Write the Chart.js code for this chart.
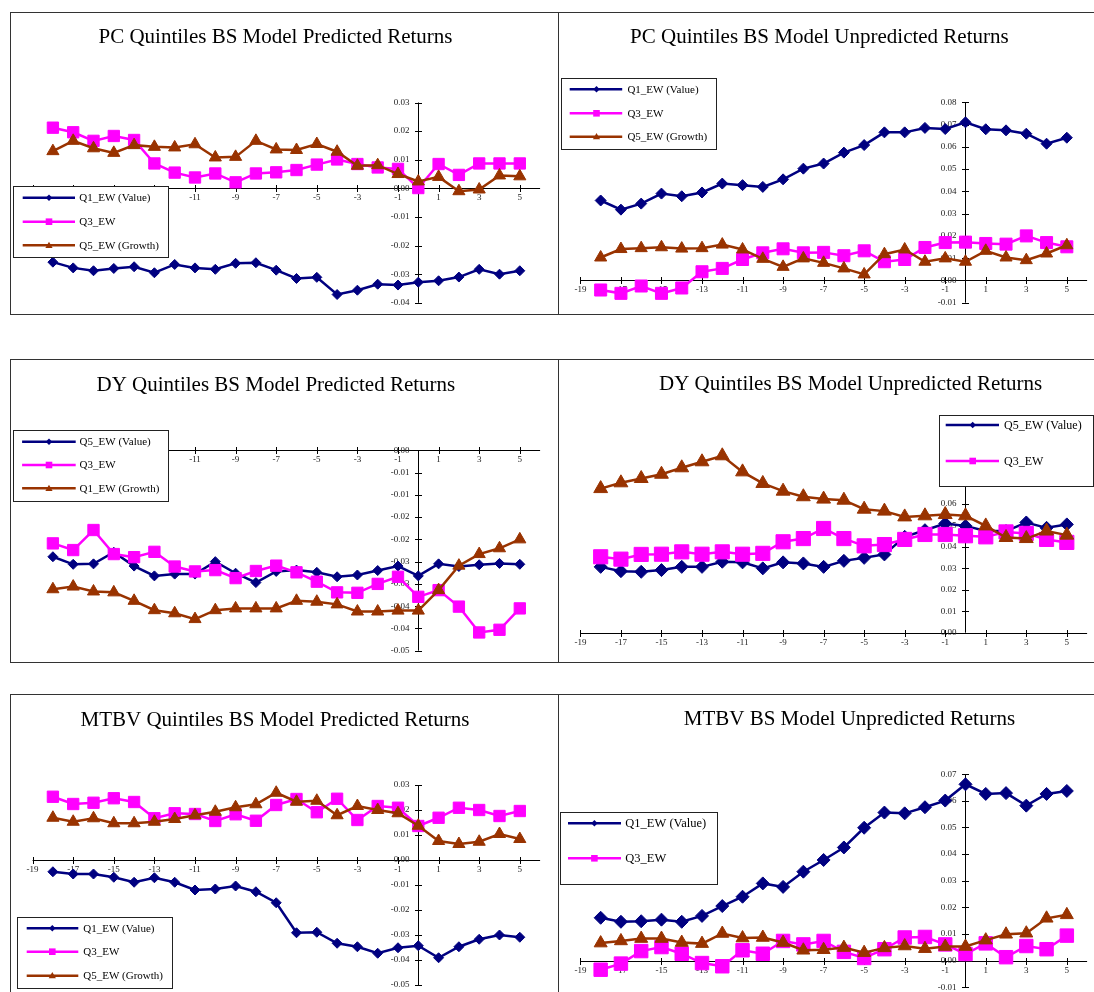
<!DOCTYPE html>
<html>
<head>
<meta charset="utf-8">
<title>BS Model Predicted and Unpredicted Returns by Quintile</title>
<script src="https://cdn.jsdelivr.net/npm/chart.js@4.4.1/dist/chart.umd.min.js"></script>
<style>
  html, body { margin: 0; padding: 0; background: #fff; width: 1094px; height: 992px; overflow: hidden; }
  .panel { position: absolute; }
  .panel canvas { display: block; }
</style>
</head>
<body>
<script>
// Event months around the event date
const periods = [-18, -17, -16, -15, -14, -13, -12, -11, -10, -9, -8, -7, -6, -5, -4, -3, -2, -1, 0, 1, 2, 3, 4, 5];
const xTickValues = [-19, -17, -15, -13, -11, -9, -7, -5, -3, -1, 1, 3, 5];

// PC quintiles, predicted returns
const pcPredValue  = [-0.0258, -0.0278, -0.0288, -0.0280, -0.0274, -0.0295, -0.0266, -0.0278, -0.0283, -0.0262, -0.0260, -0.0286, -0.0315, -0.0311, -0.0371, -0.0356, -0.0335, -0.0338, -0.0328, -0.0323, -0.0310, -0.0283, -0.0300, -0.0288];
const pcPredMid    = [0.0212, 0.0196, 0.0166, 0.0183, 0.0169, 0.0087, 0.0055, 0.0038, 0.0052, 0.0021, 0.0052, 0.0056, 0.0064, 0.0083, 0.0101, 0.0085, 0.0073, 0.0068, 0.0001, 0.0085, 0.0047, 0.0087, 0.0087, 0.0087];
const pcPredGrowth = [0.0130, 0.0166, 0.0140, 0.0124, 0.0151, 0.0145, 0.0143, 0.0154, 0.0108, 0.0110, 0.0166, 0.0136, 0.0134, 0.0155, 0.0128, 0.0079, 0.0081, 0.0050, 0.0024, 0.0040, -0.0010, -0.0004, 0.0045, 0.0042];
const pcPredYTicks  = [-0.04, -0.03, -0.02, -0.01, 0, 0.01, 0.02, 0.03];
const pcPredYLabels = ['-0.04', '-0.03', '-0.02', '-0.01', '0.00', '0.01', '0.02', '0.03'];

// PC quintiles, unpredicted returns
const pcUnpValue  = [0.0359, 0.0318, 0.0345, 0.0390, 0.0378, 0.0395, 0.0435, 0.0428, 0.0420, 0.0454, 0.0502, 0.0525, 0.0574, 0.0608, 0.0665, 0.0665, 0.0685, 0.0680, 0.0710, 0.0679, 0.0674, 0.0659, 0.0614, 0.0641];
const pcUnpMid    = [-0.0043, -0.0058, -0.0025, -0.0058, -0.0034, 0.0039, 0.0054, 0.0094, 0.0124, 0.0142, 0.0124, 0.0126, 0.0111, 0.0133, 0.0084, 0.0094, 0.0148, 0.0170, 0.0172, 0.0166, 0.0163, 0.0200, 0.0170, 0.0151];
const pcUnpGrowth = [0.0103, 0.0141, 0.0145, 0.0149, 0.0143, 0.0145, 0.0161, 0.0139, 0.0097, 0.0061, 0.0099, 0.0079, 0.0054, 0.0027, 0.0118, 0.0139, 0.0084, 0.0099, 0.0084, 0.0133, 0.0103, 0.0091, 0.0121, 0.0158];
const pcUnpYTicks  = [-0.01, 0, 0.01, 0.02, 0.03, 0.04, 0.05, 0.06, 0.07, 0.08];
const pcUnpYLabels = ['-0.01', '0.00', '0.01', '0.02', '0.03', '0.04', '0.05', '0.06', '0.07', '0.08'];

// DY quintiles, predicted returns
const dyPredValue  = [-0.0239, -0.0256, -0.0255, -0.0229, -0.0260, -0.0282, -0.0278, -0.0278, -0.0250, -0.0276, -0.0297, -0.0272, -0.0269, -0.0274, -0.0284, -0.0280, -0.0270, -0.0260, -0.0282, -0.0255, -0.0261, -0.0257, -0.0254, -0.0256];
const dyPredMid    = [-0.0209, -0.0224, -0.0179, -0.0233, -0.0240, -0.0228, -0.0261, -0.0272, -0.0269, -0.0287, -0.0271, -0.0259, -0.0274, -0.0295, -0.0319, -0.0320, -0.0300, -0.0284, -0.0329, -0.0314, -0.0351, -0.0409, -0.0403, -0.0355];
const dyPredGrowth = [-0.0312, -0.0306, -0.0317, -0.0319, -0.0338, -0.0359, -0.0366, -0.0379, -0.0359, -0.0355, -0.0355, -0.0355, -0.0338, -0.0340, -0.0346, -0.0362, -0.0362, -0.0360, -0.0360, -0.0314, -0.0259, -0.0233, -0.0220, -0.0200];
const dyPredYTicks  = [0, -0.005, -0.01, -0.015, -0.02, -0.025, -0.03, -0.035, -0.04, -0.045];
const dyPredYLabels = ['0.00', '-0.01', '-0.01', '-0.02', '-0.02', '-0.03', '-0.03', '-0.04', '-0.04', '-0.05'];

// DY quintiles, unpredicted returns
const dyUnpValue  = [0.0307, 0.0287, 0.0284, 0.0292, 0.0307, 0.0307, 0.0331, 0.0328, 0.0300, 0.0328, 0.0323, 0.0307, 0.0335, 0.0349, 0.0365, 0.0447, 0.0478, 0.0509, 0.0498, 0.0474, 0.0474, 0.0514, 0.0489, 0.0505];
const dyUnpMid    = [0.0354, 0.0343, 0.0365, 0.0366, 0.0377, 0.0366, 0.0377, 0.0366, 0.0370, 0.0424, 0.0439, 0.0486, 0.0439, 0.0405, 0.0411, 0.0435, 0.0458, 0.0458, 0.0452, 0.0447, 0.0470, 0.0463, 0.0435, 0.0421];
const dyUnpGrowth = [0.0672, 0.0699, 0.0719, 0.0739, 0.0769, 0.0797, 0.0825, 0.0750, 0.0696, 0.0660, 0.0634, 0.0623, 0.0618, 0.0576, 0.0567, 0.0540, 0.0545, 0.0551, 0.0545, 0.0498, 0.0444, 0.0439, 0.0474, 0.0455];
const dyUnpYTicks  = [0, 0.01, 0.02, 0.03, 0.04, 0.05, 0.06, 0.07, 0.08, 0.09];
const dyUnpYLabels = ['0.00', '0.01', '0.02', '0.03', '0.04', '0.05', '0.06', '0.07', '0.08', '0.09'];

// MTBV quintiles, predicted returns
const mtbvPredValue  = [-0.0047, -0.0056, -0.0056, -0.0069, -0.0089, -0.0071, -0.0089, -0.0120, -0.0116, -0.0104, -0.0127, -0.0171, -0.0291, -0.0289, -0.0333, -0.0347, -0.0373, -0.0351, -0.0343, -0.0391, -0.0347, -0.0317, -0.0300, -0.0309];
const mtbvPredMid    = [0.0253, 0.0224, 0.0229, 0.0247, 0.0232, 0.0167, 0.0187, 0.0184, 0.0156, 0.0183, 0.0157, 0.0220, 0.0244, 0.0191, 0.0245, 0.0160, 0.0216, 0.0209, 0.0136, 0.0169, 0.0209, 0.0200, 0.0176, 0.0196];
const mtbvPredGrowth = [0.0169, 0.0153, 0.0167, 0.0147, 0.0147, 0.0153, 0.0164, 0.0179, 0.0193, 0.0211, 0.0223, 0.0269, 0.0233, 0.0237, 0.0179, 0.0216, 0.0200, 0.0187, 0.0137, 0.0076, 0.0064, 0.0073, 0.0104, 0.0084];
const mtbvPredYTicks  = [-0.05, -0.04, -0.03, -0.02, -0.01, 0, 0.01, 0.02, 0.03];
const mtbvPredYLabels = ['-0.05', '-0.04', '-0.03', '-0.02', '-0.01', '0.00', '0.01', '0.02', '0.03'];

// MTBV, unpredicted returns
const mtbvUnpValue  = [0.0161, 0.0146, 0.0148, 0.0154, 0.0146, 0.0168, 0.0205, 0.0240, 0.0290, 0.0277, 0.0334, 0.0378, 0.0425, 0.0499, 0.0556, 0.0553, 0.0576, 0.0601, 0.0662, 0.0626, 0.0629, 0.0582, 0.0626, 0.0637];
const mtbvUnpMid    = [-0.0034, -0.0011, 0.0036, 0.0051, 0.0026, -0.0009, -0.0021, 0.0039, 0.0026, 0.0074, 0.0061, 0.0074, 0.0033, 0.0010, 0.0043, 0.0087, 0.0089, 0.0061, 0.0025, 0.0065, 0.0013, 0.0055, 0.0043, 0.0094];
const mtbvUnpGrowth = [0.0066, 0.0074, 0.0083, 0.0083, 0.0068, 0.0064, 0.0102, 0.0085, 0.0087, 0.0068, 0.0039, 0.0041, 0.0049, 0.0030, 0.0048, 0.0055, 0.0045, 0.0053, 0.0053, 0.0077, 0.0099, 0.0103, 0.0159, 0.0172];
const mtbvUnpYTicks  = [-0.01, 0, 0.01, 0.02, 0.03, 0.04, 0.05, 0.06, 0.07];
const mtbvUnpYLabels = ['-0.01', '0.00', '0.01', '0.02', '0.03', '0.04', '0.05', '0.06', '0.07'];

const NAVY = '#000080', MAGENTA = '#FF00FF', BROWN = '#993300';
const SERIF = '"Liberation Serif", "Times New Roman", serif';

// Panel layout, in page pixels
const panels = [
  { box: [10, 12, 549, 303], area: [32.6, 102.5, 540.1, 302.8], yMin: -0.04, yMax: 0.03,
    title: 'PC Quintiles BS Model Predicted Returns', titleAt: [275.5, 43],
    yTicks: pcPredYTicks, yLabels: pcPredYLabels, marker: [5, 8, 7],
    series: [['Q1_EW (Value)', pcPredValue, NAVY, 'rectRot'], ['Q3_EW', pcPredMid, MAGENTA, 'rect'], ['Q5_EW (Growth)', pcPredGrowth, BROWN, 'triangle']],
    legend: { box: [12.7, 186, 155, 70.7], rows: [197.7, 221.7, 245.3], line: [22.7, 75], mark: 49, text: 79.3, size: 11, items: 3 } },
  { box: [558, 12, 548, 303], area: [580.4, 102.3, 1087.1, 302.7], yMin: -0.01, yMax: 0.08,
    title: 'PC Quintiles BS Model Unpredicted Returns', titleAt: [819.4, 43],
    yTicks: pcUnpYTicks, yLabels: pcUnpYLabels, marker: [5.5, 8.5, 7],
    series: [['Q1_EW (Value)', pcUnpValue, NAVY, 'rectRot'], ['Q3_EW', pcUnpMid, MAGENTA, 'rect'], ['Q5_EW (Growth)', pcUnpGrowth, BROWN, 'triangle']],
    legend: { box: [560.5, 77.7, 155.1, 70.6], rows: [89.3, 113.3, 136.7], line: [569.7, 622.2], mark: 596.5, text: 627.4, size: 11, items: 3 } },
  { box: [10, 359, 549, 304], area: [32.6, 450.3, 540.1, 650.7], yMin: -0.045, yMax: 0,
    title: 'DY Quintiles BS Model Predicted Returns', titleAt: [275.9, 391.3],
    yTicks: dyPredYTicks, yLabels: dyPredYLabels, marker: [5, 8, 7],
    series: [['Q5_EW (Value)', dyPredValue, NAVY, 'rectRot'], ['Q3_EW', dyPredMid, MAGENTA, 'rect'], ['Q1_EW (Growth)', dyPredGrowth, BROWN, 'triangle']],
    legend: { box: [12.5, 430, 155.4, 70.7], rows: [441.7, 465, 488.3], line: [22.1, 75.7], mark: 49, text: 79.6, size: 11, items: 3 } },
  { box: [558, 359, 548, 304], area: [580.4, 439.7, 1087.1, 632.7], yMin: 0, yMax: 0.09,
    title: 'DY Quintiles BS Model Unpredicted Returns', titleAt: [850.6, 390.3],
    yTicks: dyUnpYTicks, yLabels: dyUnpYLabels, marker: [6.5, 10, 8],
    series: [['Q5_EW (Value)', dyUnpValue, NAVY, 'rectRot'], ['Q3_EW', dyUnpMid, MAGENTA, 'rect'], ['Q1_EW (Growth)', dyUnpGrowth, BROWN, 'triangle']],
    legend: { box: [939, 415, 154, 71], rows: [425, 461], line: [945.7, 999], mark: 972.7, text: 1004, size: 12, items: 2 } },
  { box: [10, 694, 549, 304], area: [32.6, 785, 540.1, 985], yMin: -0.05, yMax: 0.03,
    title: 'MTBV Quintiles BS Model Predicted Returns', titleAt: [275, 726.3],
    yTicks: mtbvPredYTicks, yLabels: mtbvPredYLabels, marker: [5, 8, 7],
    series: [['Q1_EW (Value)', mtbvPredValue, NAVY, 'rectRot'], ['Q3_EW', mtbvPredMid, MAGENTA, 'rect'], ['Q5_EW (Growth)', mtbvPredGrowth, BROWN, 'triangle']],
    legend: { box: [16.7, 916.7, 155, 70.6], rows: [928.3, 951.7, 975.7], line: [26.7, 78.3], mark: 52.3, text: 83.3, size: 11, items: 3 } },
  { box: [558, 694, 548, 304], area: [580.4, 774.2, 1087.1, 987.3], yMin: -0.01, yMax: 0.07,
    title: 'MTBV BS Model Unpredicted Returns', titleAt: [849.4, 725.3],
    yTicks: mtbvUnpYTicks, yLabels: mtbvUnpYLabels, marker: [6.5, 9.5, 7.5],
    series: [['Q1_EW (Value)', mtbvUnpValue, NAVY, 'rectRot'], ['Q3_EW', mtbvUnpMid, MAGENTA, 'rect'], ['Q5_EW (Growth)', mtbvUnpGrowth, BROWN, 'triangle']],
    legend: { box: [560, 811.7, 157.3, 71.6], rows: [823.3, 858.3], line: [568, 621], mark: 594.4, text: 625.3, size: 12.5, items: 2 } }
];

const panelByCanvas = new WeakMap();

function legendMarker(ctx, style, x, y, color) {
  ctx.fillStyle = color;
  ctx.beginPath();
  if (style === 'rectRot') {
    const r = 3.2;
    ctx.moveTo(x - r, y); ctx.lineTo(x, y - r); ctx.lineTo(x + r, y); ctx.lineTo(x, y + r);
  } else if (style === 'rect') {
    const h = 3.3;
    ctx.rect(x - h, y - h, 2 * h, 2 * h);
  } else {
    const w = 3.6;
    ctx.moveTo(x, y - 3.6); ctx.lineTo(x + w, y + 2.6); ctx.lineTo(x - w, y + 2.6);
  }
  ctx.closePath();
  ctx.fill();
}

// Draws the panel frame, crossing axes, tick labels, title and boxed legend
const panelFrame = {
  id: 'panelFrame',
  beforeDatasetsDraw(chart) {
    const p = panelByCanvas.get(chart.canvas);
    if (!p) return;
    const ctx = chart.ctx, xs = chart.scales.x, ys = chart.scales.y;
    const ax = Math.round(xs.getPixelForValue(0)) + 0.5;
    const ay = Math.round(ys.getPixelForValue(0)) + 0.5;
    ctx.save();
    ctx.strokeStyle = '#000';
    ctx.lineWidth = 1;
    ctx.beginPath();
    ctx.moveTo(xs.getPixelForValue(xs.min), ay);
    ctx.lineTo(xs.getPixelForValue(xs.max), ay);
    ctx.moveTo(ax, ys.getPixelForValue(ys.max));
    ctx.lineTo(ax, ys.getPixelForValue(ys.min));
    xTickValues.forEach(v => {
      const px = Math.round(xs.getPixelForValue(v)) + 0.5;
      ctx.moveTo(px, ay - 3.5); ctx.lineTo(px, ay + 3.5);
    });
    p.yTicks.forEach(v => {
      const py = Math.round(ys.getPixelForValue(v)) + 0.5;
      ctx.moveTo(ax - 3.5, py); ctx.lineTo(ax + 3.5, py);
    });
    ctx.stroke();

    ctx.fillStyle = '#222';
    ctx.font = '9px ' + SERIF;
    ctx.textAlign = 'center';
    ctx.textBaseline = 'middle';
    xTickValues.forEach(v => ctx.fillText(String(v), xs.getPixelForValue(v), ay + 9.5));
    ctx.textAlign = 'right';
    p.yTicks.forEach((v, i) => ctx.fillText(p.yLabels[i], ax - 9, ys.getPixelForValue(v)));
    ctx.restore();
  },
  afterDraw(chart) {
    const p = panelByCanvas.get(chart.canvas);
    if (!p) return;
    const ctx = chart.ctx;
    const ox = p.box[0], oy = p.box[1];
    ctx.save();

    // title
    ctx.fillStyle = '#000';
    ctx.font = '21px ' + SERIF;
    ctx.textAlign = 'center';
    ctx.textBaseline = 'alphabetic';
    ctx.fillText(p.title, p.titleAt[0] - ox, p.titleAt[1] - oy);

    // legend
    const L = p.legend;
    const bx = Math.round(L.box[0] - ox) + 0.5, by = Math.round(L.box[1] - oy) + 0.5;
    const bw = Math.round(L.box[2]), bh = Math.round(L.box[3]);
    ctx.fillStyle = '#fff';
    ctx.fillRect(bx, by, bw, bh);
    ctx.strokeStyle = '#222';
    ctx.lineWidth = 1;
    ctx.strokeRect(bx, by, bw, bh);
    ctx.font = L.size + 'px ' + SERIF;
    ctx.textAlign = 'left';
    ctx.textBaseline = 'middle';
    chart.data.datasets.slice(0, L.items).forEach((ds, i) => {
      const y = L.rows[i] - oy;
      ctx.strokeStyle = ds.borderColor;
      ctx.lineWidth = 2.5;
      ctx.beginPath();
      ctx.moveTo(L.line[0] - ox, y);
      ctx.lineTo(L.line[1] - ox, y);
      ctx.stroke();
      legendMarker(ctx, ds.pointStyle, L.mark - ox, y, ds.borderColor);
      ctx.fillStyle = '#000';
      ctx.fillText(ds.label, L.text - ox, y + 0.5);
    });

    // panel border
    ctx.strokeStyle = '#333';
    ctx.lineWidth = 1;
    ctx.strokeRect(0.5, 0.5, p.box[2] - 1, p.box[3] - 1);
    ctx.restore();
  }
};

panels.forEach(p => {
  const [left, top, width, height] = p.box;
  const div = document.createElement('div');
  div.className = 'panel';
  div.style.left = left + 'px';
  div.style.top = top + 'px';
  div.style.width = width + 'px';
  div.style.height = height + 'px';
  const canvas = document.createElement('canvas');
  canvas.width = width;
  canvas.height = height;
  canvas.style.width = width + 'px';
  canvas.style.height = height + 'px';
  div.appendChild(canvas);
  document.body.appendChild(div);
  panelByCanvas.set(canvas, p);

  const [aL, aT, aR, aB] = p.area;
  const datasets = p.series.map(([label, values, color, style], i) => ({
    label,
    data: periods.map((t, k) => ({ x: t, y: values[k] })),
    borderColor: color,
    backgroundColor: color,
    pointBackgroundColor: color,
    pointBorderColor: color,
    pointStyle: style,
    pointRadius: p.marker[i],
    pointHoverRadius: p.marker[i],
    pointBorderWidth: 1,
    borderWidth: 2.5,
    tension: 0,
    clip: false,
    order: p.series.length - i
  }));

  new Chart(canvas, {
    type: 'line',
    data: { datasets },
    options: {
      responsive: false,
      animation: false,
      events: [],
      layout: { padding: { left: aL - left, top: aT - top, right: left + width - aR, bottom: top + height - aB } },
      scales: {
        x: { type: 'linear', min: -19, max: 6, display: false },
        y: { type: 'linear', min: p.yMin, max: p.yMax, display: false }
      },
      plugins: { legend: { display: false }, tooltip: { enabled: false } }
    },
    plugins: [panelFrame]
  });
});
</script>
</body>
</html>
